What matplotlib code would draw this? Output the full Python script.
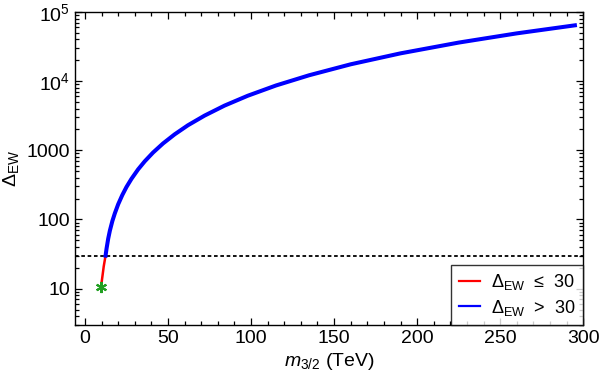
import matplotlib
matplotlib.use("Agg")
import matplotlib.pyplot as plt
from matplotlib.ticker import FixedLocator, LogLocator, NullFormatter, MultipleLocator

plt.rcParams['font.family'] = ['Liberation Sans', 'DejaVu Sans']
plt.rcParams['mathtext.fontset'] = 'custom'
plt.rcParams['mathtext.rm'] = 'Liberation Sans'
plt.rcParams['mathtext.it'] = 'Liberation Sans:italic'

# data
m_red = [9.7, 10.5, 11.3, 12.4]
d_red = [10.8, 15.0, 21.0, 30.0]
m_blue = [12.4, 13, 14, 15, 16.5, 18, 20, 22.5, 25, 28, 32, 36, 41, 47, 54, 62,
          72, 84, 98, 115, 135, 160, 190, 225, 260, 295]
d_blue = [30, 38, 53, 69, 95, 123, 166, 226, 295, 387, 530, 693, 928, 1255, 1700, 2300,
          3170, 4420, 6140, 8640, 12150, 17490, 25180, 36020, 48960, 63970]
star_m = [9.7]
star_d = [10.6]
threshold = 30
xticks = [0, 50, 100, 150, 200, 250, 300]
yticks = [10, 100, 1000, 1e4, 1e5]
ylabels = ['10', '100', '1000', r'$10^4$', r'$10^5$']

fig = plt.figure(figsize=(6, 3.84), dpi=100)
ax = fig.add_axes([0.125, 0.154, 0.847, 0.815])

ax.axhline(threshold, color='black', lw=1.3, ls=(0, (2, 1.5)), zorder=1)
ax.plot(m_red, d_red, color='red', lw=1.8, label=r'$\Delta_{\rm EW}$  ≤  30', zorder=2)
ax.plot(m_blue, d_blue, color='blue', lw=2.9, label=r'$\Delta_{\rm EW}$  >  30', zorder=2,
        solid_joinstyle='round')
ax.plot(star_m, star_d, ls='none', marker=(6, 2, 0), ms=8, mew=1.5, color='#22a022', zorder=3)

ax.set_yscale('log')
ax.set_xlim(-6, 300)
ax.set_ylim(3, 1e5)
ax.xaxis.set_major_locator(FixedLocator(xticks))
ax.xaxis.set_minor_locator(MultipleLocator(10))
ax.set_xticklabels([str(t) for t in xticks])
ax.yaxis.set_major_locator(FixedLocator(yticks))
ax.set_yticklabels(ylabels)
ax.yaxis.set_minor_locator(LogLocator(base=10, subs=range(2, 10)))
ax.yaxis.set_minor_formatter(NullFormatter())

ax.tick_params(which='both', direction='in', top=True, right=True, labelsize=14, width=0.9)
ax.tick_params(which='major', length=5)
ax.tick_params(which='minor', length=3)
for s in ax.spines.values():
    s.set_linewidth(1.0)

ax.set_xlabel(r'$m_{3/2}$ (TeV)', fontsize=14, labelpad=3)
ax.set_ylabel(r'$\Delta_{\rm EW}$', fontsize=14, labelpad=4)

leg = ax.legend(loc='lower right', fontsize=13, frameon=True, fancybox=False,
                edgecolor='black', borderaxespad=0, handlelength=1.2,
                handletextpad=0.6, borderpad=0.4, labelspacing=0.3)
leg.get_frame().set_linewidth(1.0)
for h in leg.get_lines():
    h.set_linewidth(1.6)

fig.savefig('out.png', dpi=100)
